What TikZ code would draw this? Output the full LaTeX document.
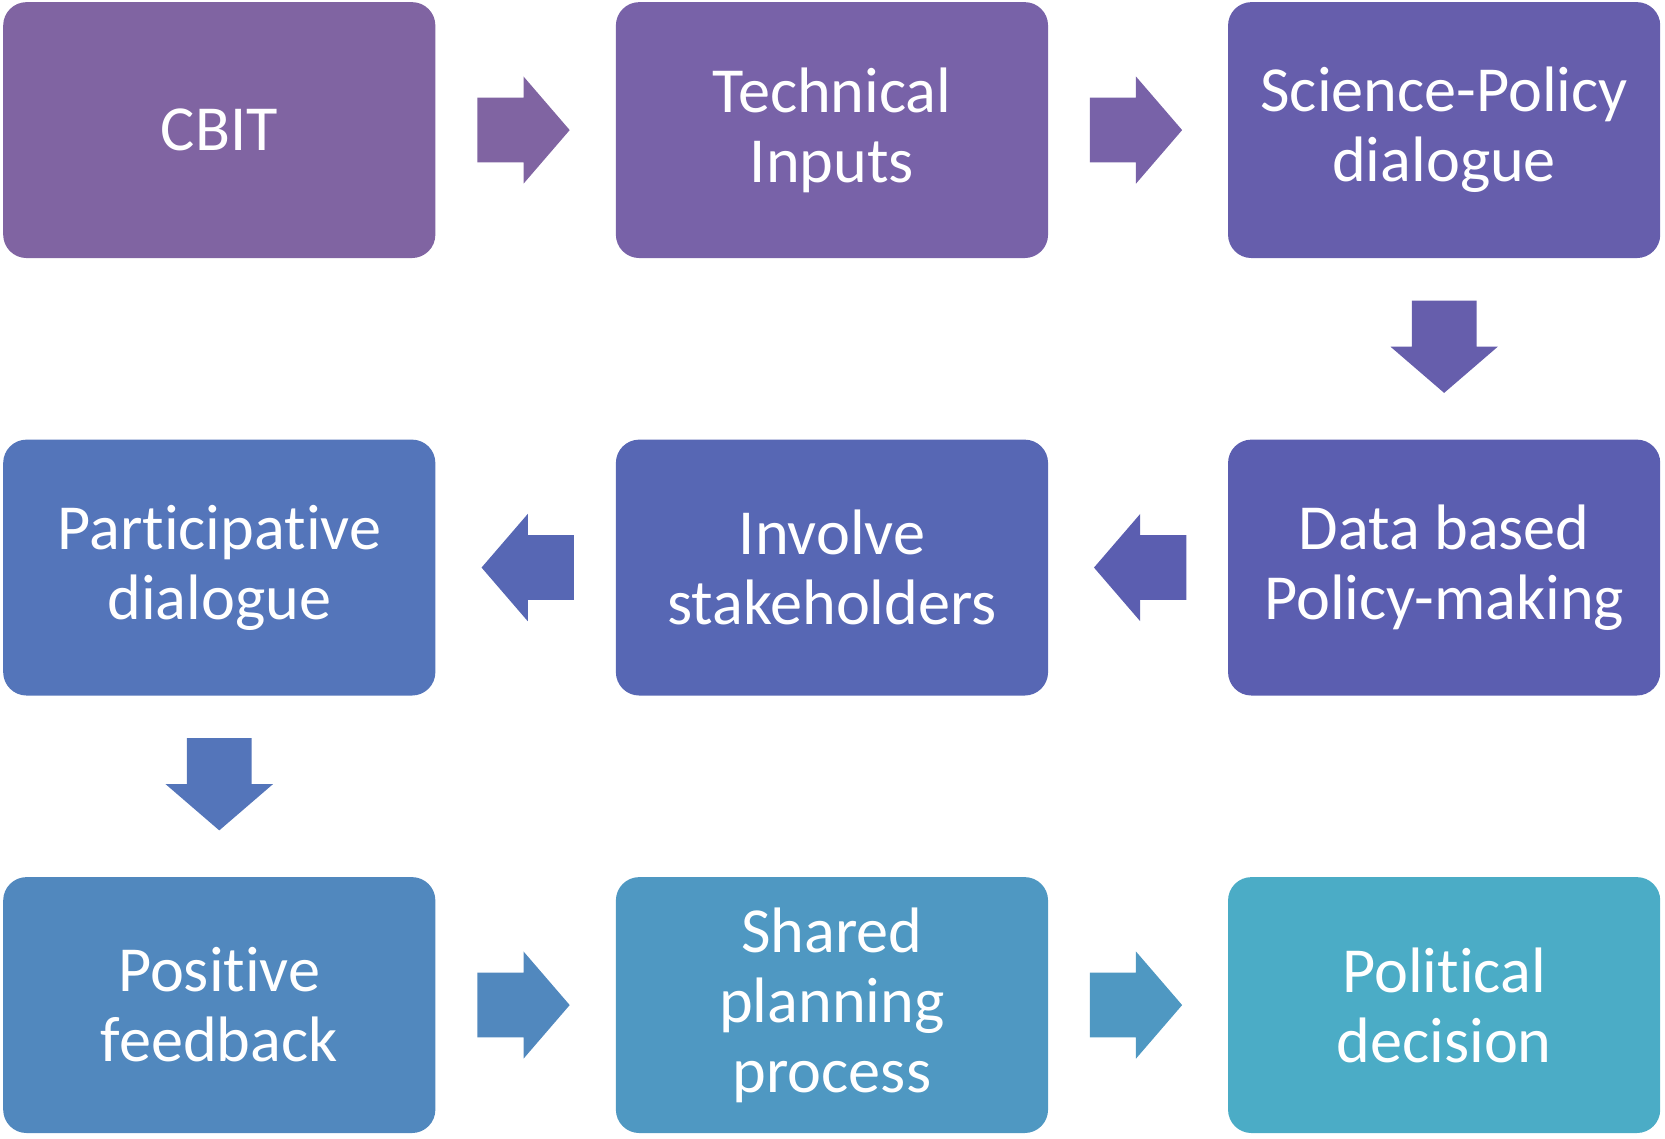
\documentclass[tikz,border=0pt]{standalone}
\usepackage{fontspec}
\setmainfont{Carlito}[RawFeature=-liga]
\usetikzlibrary{calc}
\definecolor{c1}{HTML}{8064A2}
\definecolor{c2}{HTML}{7862A8}
\definecolor{c3}{HTML}{665EAC}
\definecolor{c4}{HTML}{5B5EB0}
\definecolor{c5}{HTML}{5767B4}
\definecolor{c6}{HTML}{5475BA}
\definecolor{c7}{HTML}{5188BE}
\definecolor{c8}{HTML}{4F98C2}
\definecolor{c9}{HTML}{4BACC6}
\tikzset{
  box/.style={rounded corners=22pt, minimum width=407pt, minimum height=241pt,
    inner sep=0pt, text=white, align=center,
    font=\fontsize{60.5pt}{66pt}\selectfont},
  barrow/.pic={\fill (-43.5,-30.5) -- (0,-30.5) -- (0,-50.5) -- (43.5,0) -- (0,50.5) -- (0,30.5) -- (-43.5,30.5) -- cycle;}
}
\begin{document}
\begin{tikzpicture}[x=1pt,y=-1pt]
\useasboundingbox (0,0) rectangle (1568,1072);
% row 1
\node[box, fill=c1] (cbit) at (206.5,122.5) {CBIT};
\node[box, fill=c2] (tech) at (783.5,122.5) {Technical\\Inputs};
\node[box, fill=c3] (sci) at (1360,122.5) {Science-Policy\\dialogue};
% row 2
\node[box, fill=c6] (part) at (206.5,534.5) {Participative\\dialogue};
\node[box, fill=c5] (inv) at (783.5,534.5) {Involve\\stakeholders};
\node[box, fill=c4] (data) at (1360,534.5) {Data based\\Policy-making};
% row 3
\node[box, fill=c7] (pos) at (206.5,946.5) {Positive\\feedback};
\node[box, fill=c8] (shared) at (783.5,946.5) {Shared\\planning\\process};
\node[box, fill=c9] (pol) at (1360,946.5) {Political\\decision};
% arrows
\coordinate (a1) at ($(cbit.east)!0.5!(tech.west)+(-2,0)$);
\coordinate (a2) at ($(tech.east)!0.5!(sci.west)+(-2,0)$);
\coordinate (a3) at ($(sci.south)!0.5!(data.north)+(0,-2)$);
\coordinate (a4) at ($(data.west)!0.5!(inv.east)+(2,0)$);
\coordinate (a5) at ($(inv.west)!0.5!(part.east)+(2,0)$);
\coordinate (a6) at ($(part.south)!0.5!(pos.north)+(0,-2)$);
\coordinate (a7) at ($(pos.east)!0.5!(shared.west)+(-2,0)$);
\coordinate (a8) at ($(shared.east)!0.5!(pol.west)+(-2,0)$);
\pic[fill=c1] at (a1) {barrow};
\pic[fill=c2] at (a2) {barrow};
\pic[fill=c3, rotate=-90] at (a3) {barrow};
\pic[fill=c4, rotate=180] at (a4) {barrow};
\pic[fill=c5, rotate=180] at (a5) {barrow};
\pic[fill=c6, rotate=-90] at (a6) {barrow};
\pic[fill=c7] at (a7) {barrow};
\pic[fill=c8] at (a8) {barrow};
\end{tikzpicture}
\end{document}
